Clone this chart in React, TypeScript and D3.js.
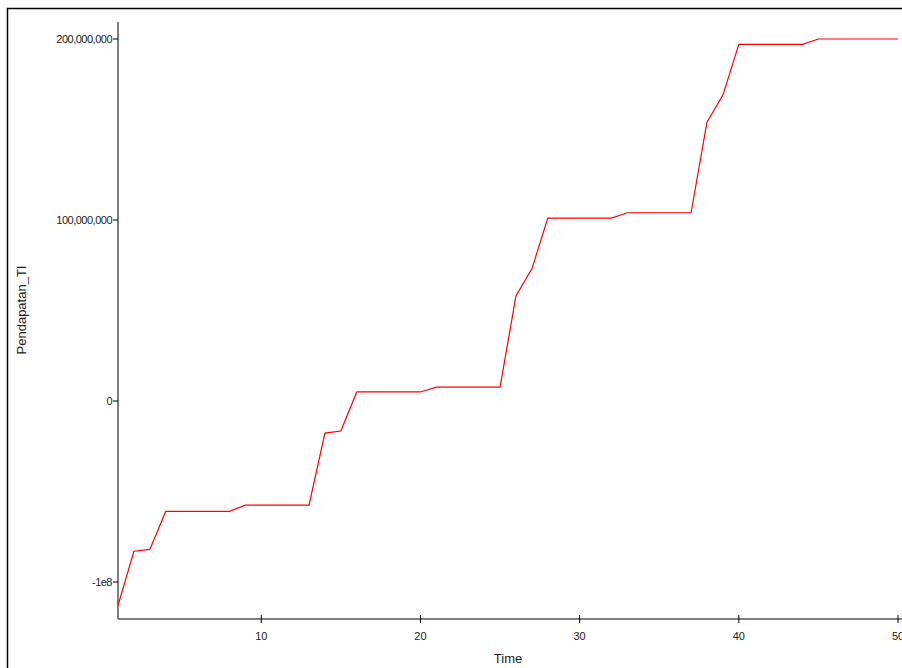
import React from "react";
import * as d3 from "d3";

const times = d3.range(1, 51);
const values = [
  -113, -83, -82, -61, -61, -61, -61, -61, -57.5, -57.5, -57.5, -57.5, -57.5,
  -17.7, -16.6, 5, 5, 5, 5, 5, 7.7, 7.7, 7.7, 7.7, 7.7, 58, 73, 101, 101, 101,
  101, 101, 104, 104, 104, 104, 104, 154, 169, 197, 197, 197, 197, 197, 200,
  200, 200, 200, 200, 200,
].map((v) => v * 1e6);
const xTicks = [10, 20, 30, 40, 50];
const yTicks = [200e6, 100e6, 0, -1e8];
const yLabels = ["200,000,000", "100,000,000", "0", "-1e8"];

export default function App() {
  const x = d3.scaleLinear().domain([1, 50]).range([118, 898]);
  const y = d3.scaleLinear().domain([0, 200e6]).range([401, 39]);
  const line = d3.line<number>().x((_, i) => x(times[i])).y((d) => y(d));
  const font = "'Liberation Sans', Arial, sans-serif";
  return (
    <svg width={902} height={668} style={{ position: "absolute", left: 0, top: 0 }} fontFamily={font}>
      <rect x={0} y={0} width={902} height={668} fill="white" />
      <rect x={7.5} y={8.5} width={1000} height={700} fill="none" stroke="#000" strokeWidth={1.5} />
      <line x1={118} x2={118} y1={22} y2={619} stroke="#555" strokeWidth={1.5} />
      <line x1={118} x2={902} y1={619} y2={619} stroke="#555" strokeWidth={1.5} />
      {yTicks.map((t, i) => (
        <g key={t}>
          <line x1={113} x2={118} y1={y(t)} y2={y(t)} stroke="#000" />
          <text x={112} y={y(t) + 4} fontSize={11} textAnchor="end" fill="#222" letterSpacing={-0.5}>{yLabels[i]}</text>
        </g>
      ))}
      {xTicks.map((t) => (
        <g key={t}>
          <line x1={x(t)} x2={x(t)} y1={615} y2={623} stroke="#000" />
          <text x={x(t)} y={640} fontSize={11} textAnchor="middle" fill="#222">{t}</text>
        </g>
      ))}
      <text x={508} y={663} fontSize={13} textAnchor="middle" fill="#222">Time</text>
      <text transform="translate(26,310) rotate(-90)" fontSize={13} textAnchor="middle" fill="#222">Pendapatan_TI</text>
      <path d={line(values) || ""} fill="none" stroke="#ff0000" strokeWidth={1.2} />
    </svg>
  );
}
